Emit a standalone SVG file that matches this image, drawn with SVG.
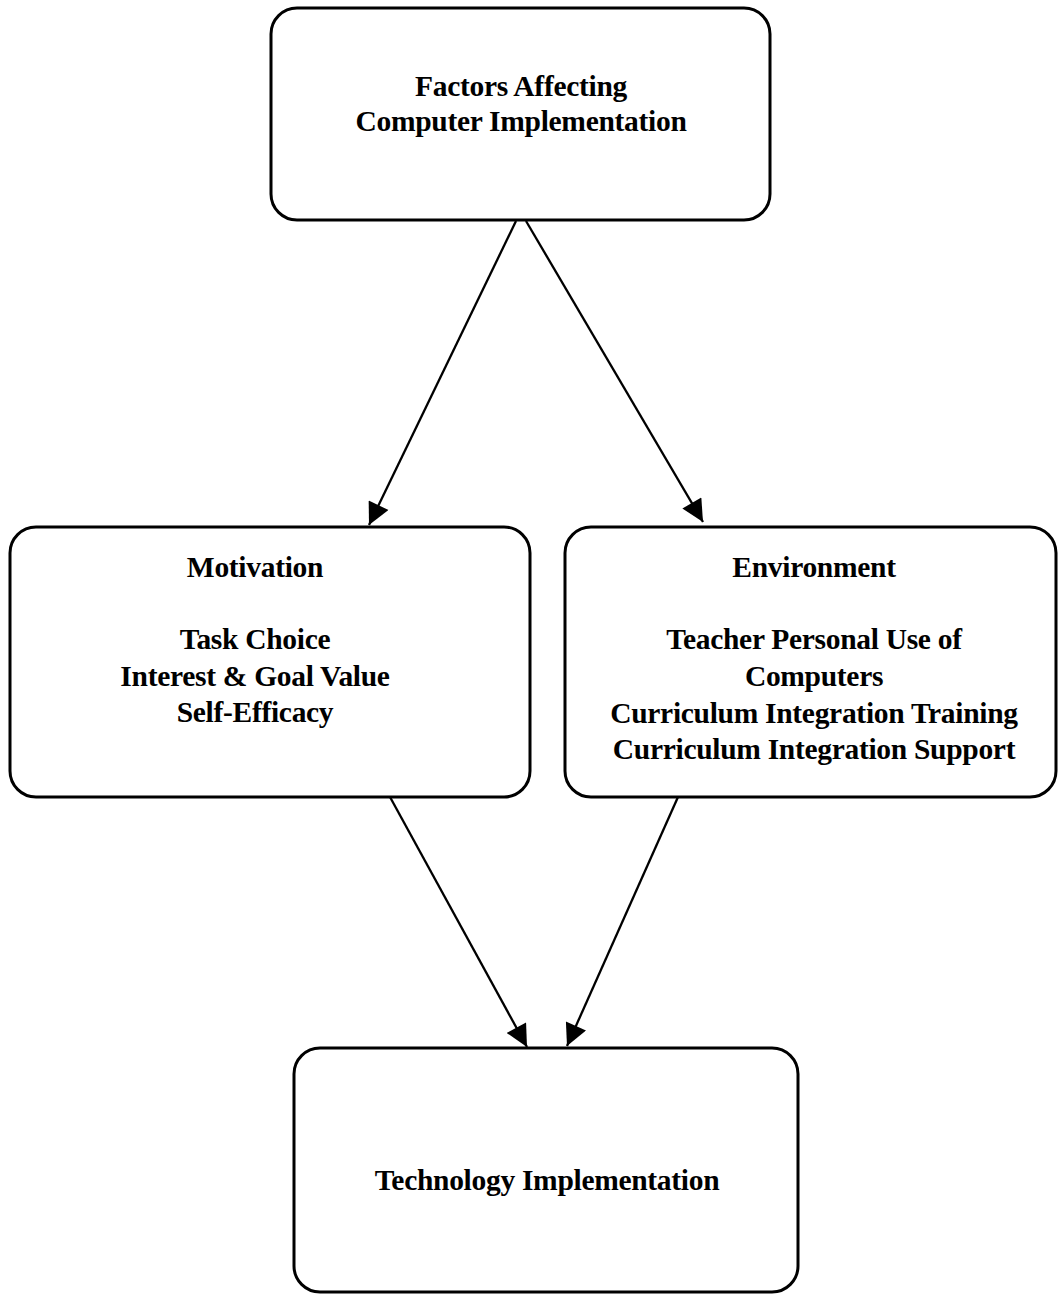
<svg xmlns="http://www.w3.org/2000/svg" width="1058" height="1296" viewBox="0 0 1058 1296">
<style>
.box{fill:#fff;stroke:#000;stroke-width:3}
.t{font-family:"Liberation Serif","Times New Roman",serif;font-weight:bold;font-size:29.5px;fill:#000;text-anchor:middle;letter-spacing:-0.3px}
.c{stroke:#000;stroke-width:2.3;fill:none}
</style>
<defs>
<marker id="ah" viewBox="0 0 10 10" refX="10" refY="5" markerWidth="23" markerHeight="22" markerUnits="userSpaceOnUse" orient="auto">
<path d="M0,0 L10,5 L0,10 z" fill="#000"/>
</marker>
</defs>
<rect width="1058" height="1296" fill="#fff"/>
<g id="connectors">
<line class="c" x1="516" y1="221" x2="369" y2="525" marker-end="url(#ah)"/>
<line class="c" x1="526" y1="221" x2="703" y2="522" marker-end="url(#ah)"/>
<line class="c" x1="390" y1="797" x2="527" y2="1047" marker-end="url(#ah)"/>
<line class="c" x1="678" y1="797" x2="567" y2="1046" marker-end="url(#ah)"/>
</g>
<g id="node-factors">
<rect class="box" x="271" y="8" width="499" height="212" rx="26"/>
<text class="t" x="521" y="96">Factors Affecting</text>
<text class="t" x="521" y="131">Computer Implementation</text>
</g>
<g id="node-motivation">
<rect class="box" x="10" y="527" width="520" height="270" rx="26"/>
<text class="t" x="255" y="577">Motivation</text>
<text class="t" x="255" y="649">Task Choice</text>
<text class="t" x="255" y="686">Interest &amp; Goal Value</text>
<text class="t" x="255" y="722">Self-Efficacy</text>
</g>
<g id="node-environment">
<rect class="box" x="565" y="527" width="491" height="270" rx="26"/>
<text class="t" x="814" y="577">Environment</text>
<text class="t" x="814" y="649">Teacher Personal Use of</text>
<text class="t" x="814" y="686">Computers</text>
<text class="t" x="814" y="723">Curriculum Integration Training</text>
<text class="t" x="814" y="759">Curriculum Integration Support</text>
</g>
<g id="node-technology">
<rect class="box" x="294" y="1048" width="504" height="244" rx="26"/>
<text class="t" x="547" y="1190">Technology Implementation</text>
</g>
</svg>
